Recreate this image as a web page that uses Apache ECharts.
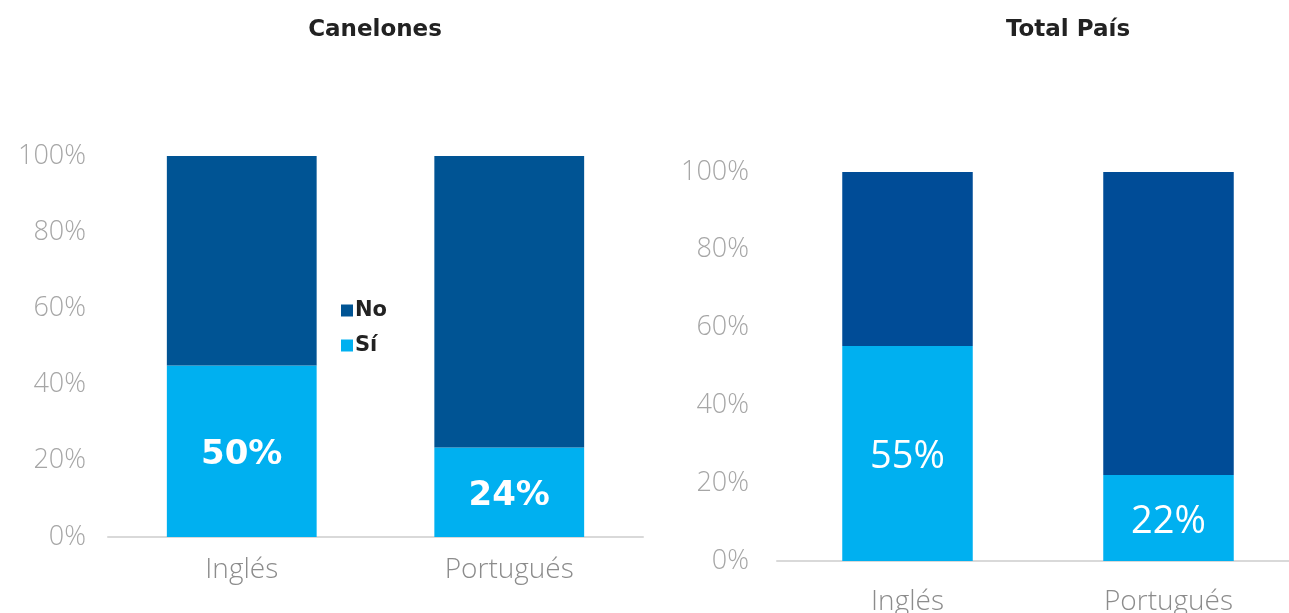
<!DOCTYPE html>
<html><head><meta charset="utf-8">
<script src="https://cdn.jsdelivr.net/npm/echarts@6/dist/echarts.min.js"></script>
<style>html,body{margin:0;padding:0;background:#fff}#c{width:1289px;height:613px}</style>
</head><body><div id="c"></div>
<script>
const categories = ["Inglés", "Portugués"];
const yTicks = ["0%", "20%", "40%", "60%", "80%", "100%"];
const titles = ["Canelones", "Total País"];
const legendNames = ["No", "Sí"];
// Canelones
const canSi = [45, 23.5];
const canNo = [55, 76.5];
const canSiLabels = ["50%", "24%"];
// Total País
const totSi = [55.3, 22.1];
const totNo = [44.7, 77.9];
const totSiLabels = ["55%", "22%"];

const FONT = "Open Sans";
const BOLD = "DejaVu Sans";
const GRAY = "#a6a6a6";
const SI = "#00b0f0";
const NO_L = "#005494";
const NO_R = "#004c97";

const chart = echarts.init(document.getElementById('c'));
function yAxis(idx, margin) {
  return {
    gridIndex: idx, type: 'value', min: 0, max: 100, interval: 20,
    splitLine: {show: false}, axisLine: {show: false}, axisTick: {show: false},
    axisLabel: {margin: margin, color: GRAY, fontFamily: FONT, fontWeight: 300, fontSize: 27,
      formatter: v => yTicks[Math.round(v / 20)]}
  };
}
function xAxis(idx, margin) {
  return {
    gridIndex: idx, type: 'category', data: categories,
    axisLine: {lineStyle: {color: '#d9d9d9', width: 2}}, axisTick: {show: false},
    axisLabel: {margin: margin, color: '#8c8c8c', fontFamily: FONT, fontWeight: 300, fontSize: 28}
  };
}
chart.setOption({
  animation: false,
  title: [
    {text: titles[0], left: 370, top: 14, textAlign: 'center',
      textStyle: {fontFamily: BOLD, fontWeight: 'bold', fontSize: 23, color: '#222'}},
    {text: titles[1], left: 1063, top: 14, textAlign: 'center',
      textStyle: {fontFamily: BOLD, fontWeight: 'bold', fontSize: 23, color: '#222'}}
  ],
  legend: {
    data: [{name: legendNames[0], itemStyle: {color: NO_L}}, {name: legendNames[1], itemStyle: {color: SI}}],
    orient: 'vertical', left: 336, top: 295, itemWidth: 12, itemHeight: 12, itemGap: 14,
    icon: 'rect', selectedMode: false,
    textStyle: {fontFamily: BOLD, fontWeight: 'bold', fontSize: 21, color: '#222', padding: [0, 0, 0, -3]}
  },
  grid: [
    {left: 108, right: 646, top: 156, bottom: 76, outerBoundsMode: 'none'},
    {left: 777, width: 522, top: 172, bottom: 52, outerBoundsMode: 'none'}
  ],
  xAxis: [xAxis(0, 19), xAxis(1, 27)],
  yAxis: [yAxis(0, 22), yAxis(1, 28)],
  series: [
    {name: legendNames[1], type: 'bar', stack: 'a', xAxisIndex: 0, yAxisIndex: 0, data: canSi,
      barWidth: '56%', itemStyle: {color: SI},
      label: {show: true, position: 'inside', offset: [0, 4], color: '#fff', fontFamily: BOLD, fontWeight: 'bold', fontSize: 34,
        formatter: p => canSiLabels[p.dataIndex]}},
    {name: legendNames[0], type: 'bar', stack: 'a', xAxisIndex: 0, yAxisIndex: 0, data: canNo,
      barWidth: '56%', itemStyle: {color: NO_L}},
    {name: legendNames[1] + ' ', type: 'bar', stack: 'b', xAxisIndex: 1, yAxisIndex: 1, data: totSi,
      barWidth: '50%', itemStyle: {color: SI},
      label: {show: true, position: 'inside', offset: [0, 4], color: '#fff', fontFamily: FONT, fontWeight: 'normal', fontSize: 38,
        formatter: p => totSiLabels[p.dataIndex]}},
    {name: legendNames[0] + ' ', type: 'bar', stack: 'b', xAxisIndex: 1, yAxisIndex: 1, data: totNo,
      barWidth: '50%', itemStyle: {color: NO_R}}
  ]
});
</script></body></html>
